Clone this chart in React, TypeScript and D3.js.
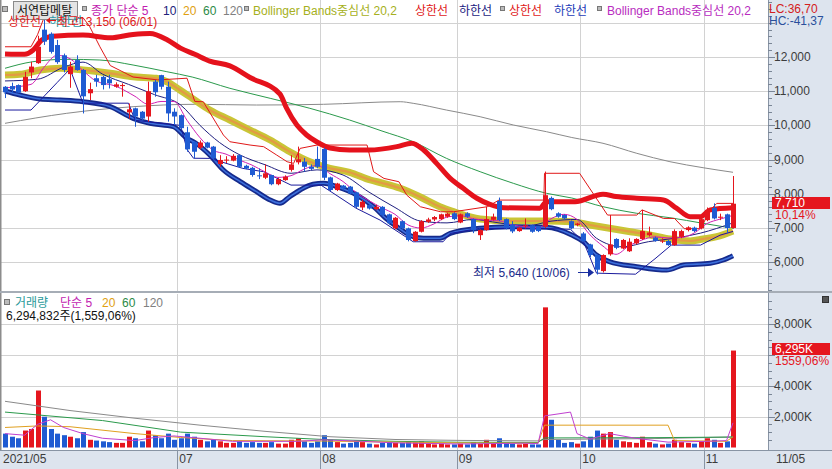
import React from 'react';
import * as d3 from 'd3';

const W = 832;
const H = 469;

// ---- candle data (trading-day index 0..112) ----
const opens = [11130,11150,11180,11000,11550,11820,12800,12680,12350,12050,11500,11910,11620,10940,11380,11420,11350,11130,11150,10380,10500,10400,10260,11280,11470,11130,10400,10300,9800,9520,9350,9500,9380,8870,8980,8970,9130,8820,8760,8540,8470,8550,8280,8400,8700,8920,8940,8790,9020,9310,8480,8110,8240,8210,8040,7600,7670,7550,7620,7400,6990,7200,6990,6620,6890,7180,7250,7260,7330,7430,7160,7430,7260,6790,6940,7240,7790,7260,7100,6910,7060,7080,7040,7040,7880,7430,7380,7200,7090,6840,6520,6210,5740,6230,6680,6400,6320,6550,6680,6790,6720,6610,6620,6500,6740,6940,7010,6990,7230,7590,7300,7400,7000];
const highs = [11150,11250,11200,11570,11860,12620,13150,12720,12500,12100,11860,12050,11650,11250,11480,11450,11480,11260,11230,10640,10520,10420,11280,11330,11480,11280,10500,10320,9960,9540,9560,9520,9400,9130,9100,9160,9140,8850,8790,8740,8860,8560,8470,8540,9130,9380,9050,8860,9380,9350,8500,8320,8260,8230,8060,7820,7700,7680,7640,7420,7320,7220,7010,6910,7230,7300,7350,7420,7450,7460,7420,7460,7280,6960,7620,7420,7890,7280,7200,7030,7280,7100,7060,8650,7920,7460,7400,7220,7150,6880,6540,6230,6230,7380,6700,6680,6700,6700,7530,7040,6750,6700,6650,6960,6950,7050,7040,7280,7600,7720,7420,7420,8520];
const lows = [10800,10950,10950,10980,11380,11800,12350,12100,11800,11550,11100,11600,10350,10740,11130,11050,11080,11100,10840,10200,9960,10150,10110,10840,11050,10110,10010,9880,9230,9040,9300,9330,8990,8790,8900,8950,8760,8720,8500,8430,8430,8250,8250,8380,8650,8860,8650,8690,8750,8400,8080,8080,8100,7990,7580,7520,7540,7520,7340,7100,6960,6950,6610,6600,6870,7150,7200,7230,7300,7230,7140,7300,6850,6650,6920,7220,7200,6960,6850,6890,6990,6860,6880,7000,7520,7300,7250,6960,7050,6600,6150,5640,5700,6190,6380,6380,6300,6520,6650,6750,6600,6560,6480,6480,6700,6900,6880,6960,7200,7250,7230,6840,6980];
const closes = [10970,11050,10960,11420,11720,12300,12450,12150,11850,11620,11720,11620,10850,11060,11280,11180,11230,11200,11180,10470,10260,10200,11000,10970,11130,10350,10260,9920,9300,9230,9500,9350,9040,8990,9000,9110,8790,8740,8550,8520,8600,8280,8430,8500,8860,9010,8790,8730,8790,8470,8110,8300,8160,8010,7620,7770,7570,7620,7380,7140,7300,6990,6650,6890,7200,7250,7320,7400,7420,7260,7400,7330,6940,6940,7260,7330,7230,6990,6900,7010,7080,6890,6910,7960,7550,7330,7280,6990,7130,6620,6210,5780,6210,6520,6420,6650,6600,6680,6910,6870,6620,6630,6500,6910,6910,7020,6910,7260,7530,7280,7330,7000,7710];
// volume in thousands of shares
const volumes = [900,700,600,1100,1200,3700,2000,1200,900,800,700,600,1000,500,450,400,350,300,300,700,600,400,1100,800,600,900,500,600,900,700,500,400,500,400,300,300,400,300,350,300,300,350,250,250,500,600,400,300,400,800,500,350,250,300,450,350,250,200,300,350,300,300,400,350,400,250,200,250,200,200,250,200,350,250,500,250,600,300,250,200,250,200,200,9100,1800,500,300,350,250,400,700,1100,900,1000,500,400,350,300,700,350,250,200,250,500,350,300,250,400,600,500,300,400,6295];

// ---- axis labels ----
const monthLabels = ['07', '08', '09', '10', '11'];
const monthStarts = [27, 49, 70, 89, 108];
const priceTicks = [6000, 7000, 8000, 9000, 10000, 11000, 12000, 13000];
const priceTickLabels = ['6,000', '7,000', '8,000', '9,000', '10,000', '11,000', '12,000', ''];
const volTicks = [2000, 4000, 6000, 8000];
const volTickLabels = ['2,000K', '4,000K', '', '8,000K'];

// ---- overlay lines: [index, price] ----
const bandUpper: [number, number][] = [[0,12090],[3,12080],[4.3,12200],[5.7,12500],[7.4,12610],[12,12640],[16.2,12560],[19.7,12660],[22.3,12690],[25,12500],[27,12260],[29.2,12080],[31.5,11880],[34.6,11740],[37.7,11400],[42.3,10920],[43.3,10510],[44.9,10010],[46.4,9720],[48,9515],[50,9340],[53,9280],[56,9280],[60.3,9380],[62.6,9480],[64.4,9280],[66.4,8890],[68.5,8450],[70.5,8160],[72.6,7870],[74.6,7690],[76.7,7590],[82.3,7580],[83.3,7770],[87.7,7770],[92,7990],[94,7920],[97.2,7870],[101.3,7820],[103.3,7580],[105.4,7330],[107,7330],[108.5,7530],[112,7590]];
const bandLower: [number, number][] = [[0,11006],[2.3,10889],[5.4,10772],[8.5,10743],[12,10693],[16.2,10547],[19.7,10208],[22.3,10061],[25.9,9962],[28,9623],[29.2,9500],[31.5,9135],[33.6,8696],[36.2,8354],[38.7,8062],[40.8,7819],[42.3,7722],[43.8,7915],[45.4,8111],[47.4,8278],[49,8307],[51.5,8178],[54.1,7965],[56.7,7623],[58.5,7300],[60.3,7038],[62.8,6746],[64.4,6699],[66.9,6699],[68.5,6845],[73.1,6991],[78.2,7038],[83.3,7020],[87.2,6795],[89,6600],[91,6211],[93,6015],[97.2,5868],[101.8,5772],[104.4,5918],[108.5,5968],[110.5,6064],[112,6190]];
const bbCenter: [number, number][] = [[0,11474],[2.3,11494],[5.4,11620],[8.5,11670],[12,11620],[16.2,11523],[19.7,11424],[23.3,11377],[24.9,11278],[26.9,11035],[28.8,10792],[31.5,10450],[34.6,10158],[37.7,9865],[40.8,9573],[43.8,9231],[46.9,8939],[50,8746],[53,8629],[56.2,8404],[58,8316],[60.8,8161],[63.8,7915],[66.9,7623],[69,7477],[73.1,7263],[78.2,7205],[83.3,7205],[87.2,7184],[90,7088],[93,6991],[96.2,6892],[99.2,6795],[102.3,6678],[105.4,6620],[107.4,6678],[109.5,6746],[112,6912]];
const ma60: [number, number][] = [[0,11670],[4.3,11863],[9.5,11933],[14.6,11912],[19.7,11766],[24.9,11570],[28.8,11415],[34.6,11085],[40.8,10792],[46.9,10500],[53,10158],[58,9836],[62.8,9523],[67.9,9038],[73.1,8646],[78.2,8307],[83.3,8015],[87.2,7877],[92,7623],[97.2,7430],[102.3,7301],[107.4,7137],[112,6991]];
const ma120: [number, number][] = [[0,10061],[9.5,10354],[19.7,10547],[29.2,10617],[38.7,10596],[49,10617],[60.8,10693],[62.8,10646],[67.9,10450],[73.1,10254],[78.2,10012],[83.3,9816],[87.2,9646],[92,9477],[97.2,9184],[102.3,8939],[107.4,8763],[112,8629]];
const ma10: [number, number][] = [[0,11300],[5,11350],[9,11700],[12,11850],[15,11500],[19,11200],[23,10900],[27,10600],[30,10000],[33,9500],[36,9150],[40,8850],[44,8600],[48,8700],[52,8550],[56,8050],[60,7600],[64,7200],[68,7150],[72,7250],[76,7150],[80,7050],[84,7200],[88,7250],[91,6700],[95,6450],[99,6600],[103,6700],[107,6850],[112,7150]];
const ma5: [number, number][] = [[0,11100],[4,11200],[6,11700],[8,12050],[10,11950],[12,11600],[14,11300],[17,11150],[20,10850],[22,10620],[24,10700],[26,10700],[28,10150],[30,9640],[32,9280],[34,9160],[36,8990],[38,8840],[40,8640],[42,8480],[44,8530],[46,8720],[48,8830],[50,8590],[52,8360],[54,8040],[56,7800],[58,7590],[60,7400],[62,7090],[64,7000],[66,7120],[68,7320],[70,7360],[72,7270],[74,7230],[76,7210],[78,7090],[80,7040],[82,7000],[84,7270],[86,7400],[88,7250],[90,6800],[92,6470],[94,6230],[96,6480],[98,6650],[100,6740],[102,6710],[104,6720],[106,6850],[108,7130],[110,7260],[112,7370]];
const chanUpper: [number, number][] = [[0,12300],[4,12300],[5,12650],[6,13150],[12,13150],[13,12900],[14.6,12300],[16.2,11750],[19.7,11415],[23.5,11330],[28,11380],[29.2,10700],[30.5,10693],[33.6,9718],[34.6,9523],[37.7,9426],[39.8,9377],[41.8,9133],[43.4,8938],[44.4,8889],[45.4,9328],[48,9426],[55.7,9426],[56.7,8646],[58.3,8450],[60.6,8353],[61.8,7963],[63.9,7622],[67,7475],[69,7475],[74.2,7622],[76,7817],[82.9,7817],[83,8600],[88.4,8600],[92.7,7378],[97.2,7378],[98,7530],[101.3,7280],[103,7280],[104.5,6980],[107,6980],[108.5,7525],[109.5,7720],[112,7720]];
const chanLower: [number, number][] = [[0,10450],[4,10450],[8,11250],[10,11650],[12,10650],[19,10650],[20,10150],[27,10000],[28,9300],[29,9040],[31.5,9036],[36.6,8743],[39.8,8645],[44,8255],[48.6,8255],[50,8080],[54,7580],[57.7,7232],[62.8,6598],[67.4,6598],[68.5,6842],[73,6988],[83,6988],[87,6960],[89,6600],[91,5680],[97,5650],[100,6100],[102.5,6500],[107,6500],[110,6790],[112,6900]];

// ---- volume moving averages: [index, thousand shares] ----
const volMa5: [number, number][] = [[0,900],[3,800],[5,1500],[7,1800],[9,1300],[12,900],[15,600],[20,450],[23,650],[26,750],[30,600],[35,400],[45,400],[49,500],[55,400],[60,300],[70,230],[80,280],[82,250],[83,2050],[87,2300],[88,900],[90,550],[93,900],[97,600],[102,350],[108,400],[111,450],[112,1600]];
const volMa20: [number, number][] = [[0,1300],[5,1400],[10,1350],[20,900],[27,650],[35,450],[49,420],[60,350],[70,300],[82,280],[83,1450],[102,1450],[103,450],[111,400],[112,700]];
const volMa60: [number, number][] = [[0,2300],[15,1750],[27,1000],[40,700],[49,520],[60,400],[70,340],[82,330],[83,620],[100,640],[112,680]];
const volMa120: [number, number][] = [[0,3000],[10,2400],[20,1900],[30,1450],[40,1050],[50,700],[60,520],[70,460],[82,430],[83,520],[100,580],[112,680]];

const FONT = "'Liberation Sans', 'Noto Sans CJK KR', sans-serif";
const RED = '#e5161e';
const BLUE = '#1f5bd2';
const AXIS_BG = '#dde4ee';

export default function App() {
  const x = d3.scaleLinear().domain([0, 112]).range([5, 733]);
  const yP = d3.scaleLinear().domain([5158, 13667]).range([291, 0]);
  const yV = d3.scaleLinear().domain([0, 10000]).range([447.5, 293.5]);
  const step = x(1) - x(0);
  const plotR = 768;

  const pl = (pts: [number, number][], curve: d3.CurveFactory = d3.curveMonotoneX) =>
    d3.line<[number, number]>().x(d => x(d[0])).y(d => yP(d[1])).curve(curve)(pts) || '';
  const vl = (pts: [number, number][]) =>
    d3.line<[number, number]>().x(d => x(d[0])).y(d => yV(d[1])).curve(d3.curveLinear)(pts) || '';

  const monthX = monthStarts.map(i => x(i) - step / 2);

  const minorP = d3.range(5200, 13700, 200);
  const minorV = d3.range(500, 10000, 500);

  return (
    <svg width={W} height={H} style={{ position: 'absolute', left: 0, top: 0, background: '#fff' }} fontFamily={FONT}>
      <defs>
        <clipPath id="pc"><rect x={1} y={0} width={plotR - 1} height={291} /></clipPath>
        <clipPath id="vc"><rect x={1} y={294} width={plotR - 1} height={156} /></clipPath>
      </defs>
      <rect x={0} y={0} width={W} height={H} fill="#fff" />
      {/* grid - price */}
      {priceTicks.map(t => (
        <line key={'pg' + t} x1={1} x2={plotR} y1={Math.round(yP(t)) + 0.5} y2={Math.round(yP(t)) + 0.5} stroke="#d2d2d2" />
      ))}
      {volTicks.map(t => (
        <line key={'vg' + t} x1={1} x2={plotR} y1={Math.round(yV(t)) + 0.5} y2={Math.round(yV(t)) + 0.5} stroke="#d2d2d2" />
      ))}
      {monthX.map((mx, k) => (
        <g key={'mg' + k}>
          <line x1={Math.round(mx) + 0.5} x2={Math.round(mx) + 0.5} y1={0} y2={291} stroke="#d2d2d2" />
          <line x1={Math.round(mx) + 0.5} x2={Math.round(mx) + 0.5} y1={294} y2={450} stroke="#d2d2d2" />
        </g>
      ))}

      {/* price overlays */}
      <g clipPath="url(#pc)" fill="none">
        <path d={pl(ma120)} stroke="#8a8a8a" strokeWidth={1} />
        <path d={pl(ma60)} stroke="#2b9a4c" strokeWidth={1} />
        <path d={pl(bbCenter)} stroke="#c9c536" strokeWidth={7} />
        <path d={pl(bbCenter)} stroke="#e39a44" strokeWidth={2.2} />
        <path d={pl(bandUpper)} stroke="#e5121c" strokeWidth={5} strokeLinejoin="round" />
        <path d={pl(bandLower)} stroke="#152a8c" strokeWidth={5} strokeLinejoin="round" />
        <path d={pl(bandLower)} stroke="#3d6fdc" strokeWidth={1.6} strokeLinejoin="round" />
        <path d={pl(chanUpper, d3.curveLinear)} stroke="#e01818" strokeWidth={1} />
        <path d={pl(chanLower, d3.curveLinear)} stroke="#1a1a9c" strokeWidth={1} />
        <path d={pl(ma10)} stroke="#202080" strokeWidth={1} />
        <path d={pl(ma5)} stroke="#d021b4" strokeWidth={1} />
      </g>

      {/* candles */}
      <g clipPath="url(#pc)">
        {closes.map((c, i) => {
          const o = opens[i];
          const up = c >= o;
          const col = up ? RED : BLUE;
          const cx = Math.round(x(i)) + 0.5;
          const top = yP(Math.max(o, c));
          const bot = yP(Math.min(o, c));
          return (
            <g key={'c' + i}>
              <line x1={cx} x2={cx} y1={yP(highs[i])} y2={yP(lows[i])} stroke={col} strokeWidth={1} />
              <rect x={cx - 2.5} y={top} width={5} height={Math.max(1, bot - top)} fill={col} />
            </g>
          );
        })}
      </g>

      {/* volume bars */}
      <g clipPath="url(#vc)">
        {volumes.map((v, i) => (
          <rect key={'v' + i} x={Math.round(x(i)) - 2} y={yV(v)} width={5} height={yV(0) - yV(v)}
            fill={closes[i] >= opens[i] ? RED : BLUE} />
        ))}
        <g fill="none" strokeWidth={1}>
          <path d={vl(volMa120)} stroke="#8a8a8a" />
          <path d={vl(volMa60)} stroke="#2b9a4c" />
          <path d={vl(volMa20)} stroke="#e0a020" />
          <path d={vl(volMa5)} stroke="#c040d0" />
        </g>
      </g>

      {/* panel borders */}
      <line x1={0.5} x2={0.5} y1={0} y2={450} stroke="#8c8c8c" strokeWidth={2} />
      <line x1={0} x2={plotR} y1={292} y2={292} stroke="#a6adb6" strokeWidth={2} />

      {/* right axis */}
      <rect x={plotR} y={0} width={W - plotR} height={450} fill={AXIS_BG} />
      <line x1={plotR + 0.5} x2={plotR + 0.5} y1={0} y2={469} stroke="#8894a4" />
      <line x1={plotR} x2={W} y1={292} y2={292} stroke="#a6adb6" strokeWidth={2} />
      {minorP.map(t => (
        <line key={'mp' + t} x1={plotR} x2={plotR + (t % 1000 === 0 ? 7 : 4)} y1={Math.round(yP(t)) + 0.5} y2={Math.round(yP(t)) + 0.5} stroke="#7a8696" />
      ))}
      {priceTicks.map((t, k) => (
        <text key={'pl' + t} x={774} y={yP(t) + 4} fontSize={12} fill="#3c3c3c">{priceTickLabels[k]}</text>
      ))}
      {minorV.map(t => (
        <line key={'mv' + t} x1={plotR} x2={plotR + (t % 2000 === 0 ? 7 : 4)} y1={Math.round(yV(t)) + 0.5} y2={Math.round(yV(t)) + 0.5} stroke="#7a8696" />
      ))}
      {volTicks.map((t, k) => (
        <text key={'vl' + t} x={774} y={yV(t) + 4} fontSize={12} fill="#3c3c3c">{volTickLabels[k]}</text>
      ))}

      {/* current price / volume markers */}
      <rect x={772} y={197} width={58} height={12} fill={RED} />
      <text x={775} y={207} fontSize={12} fill="#fff">7,710</text>
      <text x={775} y={219} fontSize={12} fill={RED}>10,14%</text>
      <rect x={772} y={343} width={58} height={12} fill={RED} />
      <text x={775} y={353} fontSize={12} fill="#fff">6,295K</text>
      <text x={775} y={365} fontSize={12} fill={RED}>1559,06%</text>

      {/* LC / HC */}
      <text x={769} y={13} fontSize={12} fill="#d42020">LC:36,70</text>
      <text x={769} y={25} fontSize={12} fill="#2a4f9c">HC:-41,37</text>
      <rect x={822.5} y={296.5} width={6} height={6} fill="#555" stroke="#333" />

      {/* bottom axis */}
      <rect x={0} y={450} width={W} height={19} fill={AXIS_BG} />
      <line x1={0} x2={W} y1={450.5} y2={450.5} stroke="#8894a4" />
      {monthX.map((mx, k) => (
        <g key={'ml' + k}>
          <line x1={Math.round(mx) + 0.5} x2={Math.round(mx) + 0.5} y1={450} y2={469} stroke="#8894a4" />
          <text x={mx + 2} y={463} fontSize={12} fill="#3c3c3c">{monthLabels[k]}</text>
        </g>
      ))}
      <text x={3} y={463} fontSize={12} fill="#3c3c3c">2021/05</text>
      <text x={776} y={463} fontSize={12} fill="#3c3c3c">11/05</text>

      {/* legend row 1 */}
      <rect x={2.5} y={6.5} width={5} height={5} fill="#bbb" stroke="#777" />
      <rect x={13.5} y={1.5} width={64} height={18} fill="#e4e4e4" stroke="#8a8a8a" />
      <text x={17} y={15} fontSize={12} fill="#111">서연탑메탈</text>
      <rect x={82.5} y={6.5} width={4} height={4} fill="#bbb" stroke="#777" />
      <text x={91} y={15} fontSize={12} fill="#c21cb0">종가 단순 5</text>
      <text x={163} y={15} fontSize={12} fill="#20207a">10</text>
      <text x={183} y={15} fontSize={12} fill="#e0a010">20</text>
      <text x={203} y={15} fontSize={12} fill="#2b8a46">60</text>
      <text x={223} y={15} fontSize={12} fill="#808080">120</text>
      <rect x={244.5} y={6.5} width={4} height={4} fill="#bbb" stroke="#777" />
      <text x={253} y={15} fontSize={12} fill="#a6b020">Bollinger Bands중심선 20,2</text>
      <text x={415} y={15} fontSize={12} fill="#e01818">상한선</text>
      <text x={459} y={15} fontSize={12} fill="#1a1a80">하한선</text>
      <rect x={500.5} y={6.5} width={4} height={4} fill="#bbb" stroke="#777" />
      <text x={509} y={15} fontSize={12} fill="#e01818">상한선</text>
      <text x={554} y={15} fontSize={12} fill="#1a3ab8">하한선</text>
      <rect x={597.5} y={6.5} width={4} height={4} fill="#bbb" stroke="#777" />
      <text x={607} y={15} fontSize={12} fill="#b82cc0">Bollinger Bands중심선 20,2</text>

      {/* legend row 2 + high annotation */}
      <text x={8} y={26} fontSize={12} fill="#e01818">상한선</text>
      <text x={49} y={26} fontSize={12} fill="#2a9aa8">하한선</text>
      <line x1={47} x2={56} y1={20.5} y2={20.5} stroke="#e01818" />
      <path d="M46,20.5 L50,17.5 L50,23.5 Z" fill="#e01818" />
      <text x={57} y={26} fontSize={12} fill="#e01818">최고13,150 (06/01)</text>

      {/* low annotation */}
      <text x={473} y={277} fontSize={12} fill="#1a2a8a">최저 5,640 (10/06)</text>
      <line x1={578} x2={589} y1={272.5} y2={272.5} stroke="#1a2fa0" />
      <path d="M588,268 L594,272.5 L588,277 Z" fill="#1a2fa0" />

      {/* volume legend */}
      <rect x={4.5} y={299.5} width={5} height={5} fill="#bbb" stroke="#777" />
      <text x={15} y={307} fontSize={12} fill="#2a9a9a">거래량</text>
      <text x={60} y={307} fontSize={12} fill="#c21cb0">단순 5</text>
      <text x={102} y={307} fontSize={12} fill="#e0a010">20</text>
      <text x={122} y={307} fontSize={12} fill="#2b8a46">60</text>
      <text x={143} y={307} fontSize={12} fill="#808080">120</text>
      <text x={6} y={320} fontSize={12} fill="#111">6,294,832주(1,559,06%)</text>
    </svg>
  );
}
